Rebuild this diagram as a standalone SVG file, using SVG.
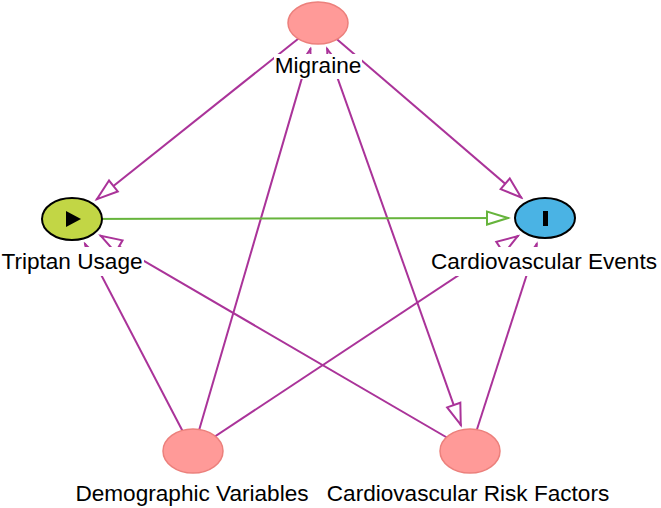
<svg xmlns="http://www.w3.org/2000/svg" width="661" height="508" viewBox="0 0 661 508">
<style>
.e{stroke:#aa3399;stroke-width:2;fill:none}
.g{stroke:#66b43c;stroke-width:2;fill:none}
.lbl{font-family:"Liberation Sans",Arial,Helvetica,sans-serif;font-size:22.6px;fill:#000;text-anchor:middle}
.bg{fill:#fff}
.adj{fill:#ff9a98;stroke:#ec807c;stroke-width:1.5}
</style>
<defs>
<marker id="am" viewBox="-25 -9 27 18" markerWidth="27" markerHeight="18" refX="0" refY="0" orient="auto" markerUnits="userSpaceOnUse">
<path d="M-1,0 L-22,-7 L-22,7 Z" fill="#fff" stroke="#aa3399" stroke-width="2"/>
</marker>
<marker id="amr" viewBox="-25 -9 27 18" markerWidth="27" markerHeight="18" refX="0" refY="0" orient="auto-start-reverse" markerUnits="userSpaceOnUse">
<path d="M-1,0 L-22,-7 L-22,7 Z" fill="#fff" stroke="#aa3399" stroke-width="2"/>
</marker>
<marker id="ag" viewBox="-25 -9 27 18" markerWidth="27" markerHeight="18" refX="0" refY="0" orient="auto" markerUnits="userSpaceOnUse">
<path d="M-1,0 L-22,-6.5 L-22,6.5 Z" fill="#fff" stroke="#66b43c" stroke-width="2"/>
</marker>
</defs>
<rect width="661" height="508" fill="#fff"/>
<g id="connectors">
<line class="e" x1="318" y1="23" x2="96.2" y2="199.7" marker-end="url(#am)"/>
<line class="e" x1="318" y1="23" x2="521.9" y2="198.1" marker-end="url(#am)"/>
<line class="e" x1="326.9" y1="48.2" x2="461.1" y2="425.8" marker-start="url(#amr)" marker-end="url(#amr)"/>
<line class="e" x1="193" y1="451" x2="310.6" y2="48.4" marker-end="url(#am)"/>
<line class="e" x1="193" y1="451" x2="84.7" y2="243.3" marker-end="url(#am)"/>
<line class="e" x1="470" y1="451" x2="100" y2="235.3" marker-end="url(#am)"/>
<line class="e" x1="193" y1="451" x2="518.5" y2="235.6" marker-end="url(#am)"/>
<line class="e" x1="470" y1="451" x2="536.9" y2="243.3" marker-end="url(#am)"/>
<line class="g" x1="72" y1="219" x2="509" y2="218" marker-end="url(#ag)"/>
</g>
<g id="node-migraine">
<rect class="bg" x="274" y="54" width="88" height="25"/>
<text class="lbl" x="318" y="73">Migraine</text>
<ellipse class="adj" cx="318" cy="23" rx="30" ry="21"/>
</g>
<g id="node-triptan">
<rect class="bg" x="0" y="247" width="144" height="29"/>
<text class="lbl" x="72" y="269">Triptan Usage</text>
<ellipse cx="72" cy="219" rx="30" ry="21" fill="#c2d645" stroke="#000" stroke-width="2"/>
<path d="M66,211 L66,227 L81,219 Z" fill="#000"/>
</g>
<g id="node-cardio-events">
<rect class="bg" x="429" y="247" width="231" height="29"/>
<text class="lbl" x="544" y="269">Cardiovascular Events</text>
<ellipse cx="545" cy="218" rx="30" ry="20" fill="#4ab3e4" stroke="#000" stroke-width="2"/>
<rect x="543" y="211" width="5" height="15" fill="#000"/>
</g>
<g id="node-demographic">
<rect class="bg" x="72" y="480" width="240" height="28"/>
<text class="lbl" x="192" y="501">Demographic Variables</text>
<ellipse class="adj" cx="193" cy="451" rx="30" ry="22"/>
</g>
<g id="node-risk">
<rect class="bg" x="321" y="480" width="294" height="28"/>
<text class="lbl" x="468" y="501">Cardiovascular Risk Factors</text>
<ellipse class="adj" cx="470" cy="451" rx="30" ry="22"/>
</g>
</svg>
